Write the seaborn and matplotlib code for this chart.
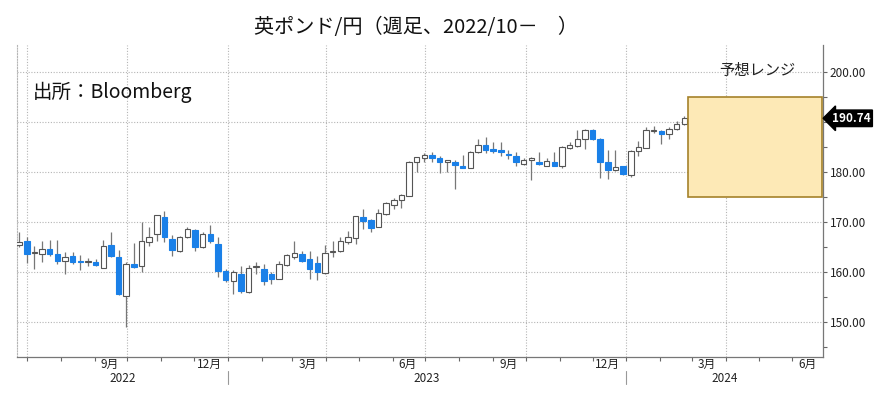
import numpy as np
import pandas as pd
import seaborn as sns
import matplotlib
matplotlib.use('Agg')
import matplotlib.pyplot as plt
import matplotlib.dates as mdates
from matplotlib.patches import Rectangle
from matplotlib.transforms import blended_transform_factory

# weekly GBP/JPY candles, last week ends 2024-02-23
opens = [165.4, 166.1, 163.8, 163.7, 164.5, 163.5, 162.2, 163.2, 162.2, 162.0,
         162.1, 160.9, 165.3, 163.0, 155.2, 161.7, 161.3, 166.1, 167.6, 171.1,
         166.6, 164.3, 167.1, 168.3, 165.1, 167.5, 165.5, 160.2, 158.2, 159.7,
         156.0, 161.0, 160.7, 159.6, 158.7, 161.5, 163.0, 163.7, 162.5, 161.8,
         159.8, 164.0, 164.3, 166.0, 166.8, 171.1, 170.5, 169.1, 171.6, 173.4,
         174.4, 175.3, 182.0, 182.8, 183.4, 182.8, 182.0, 182.1, 181.2, 180.9,
         184.1, 185.3, 184.5, 184.3, 183.6, 183.2, 181.7, 182.4, 182.1, 181.3,
         182.1, 181.3, 184.9, 185.2, 186.6, 188.4, 186.6, 182.0, 180.5, 181.1,
         179.4, 184.2, 184.9, 188.2, 188.2, 187.6, 188.7, 189.6]
highs = [168.0, 167.1, 165.3, 166.3, 166.4, 166.4, 164.0, 164.0, 163.5, 162.8,
         162.7, 166.5, 168.0, 164.5, 162.0, 165.8, 170.1, 169.0, 171.5, 172.2,
         167.5, 167.2, 169.1, 168.6, 168.0, 169.4, 167.0, 160.7, 160.4, 161.3,
         161.5, 162.0, 161.7, 160.0, 162.3, 163.7, 166.2, 164.3, 164.2, 163.3,
         165.5, 166.3, 167.1, 168.2, 171.3, 172.6, 170.7, 172.6, 174.0, 174.9,
         175.7, 182.2, 183.1, 183.9, 184.1, 183.3, 182.4, 182.5, 183.5, 184.3,
         186.6, 187.0, 186.0, 186.0, 184.4, 184.0, 182.8, 183.1, 184.0, 182.8,
         184.0, 185.2, 186.0, 188.4, 188.7, 188.6, 186.8, 184.4, 184.5, 181.2,
         184.4, 186.2, 189.1, 189.2, 188.4, 189.1, 190.2, 191.3]
lows = [165.0, 161.9, 160.6, 162.0, 163.2, 161.7, 159.7, 161.7, 160.4, 161.3,
        161.2, 160.8, 163.0, 155.5, 149.0, 160.8, 160.0, 165.3, 166.3, 166.0,
        163.3, 164.0, 166.9, 164.3, 164.9, 165.9, 159.0, 158.0, 155.7, 155.9,
        155.9, 159.7, 157.4, 157.7, 158.6, 161.3, 162.7, 162.0, 158.7, 158.4,
        159.7, 163.0, 164.1, 165.6, 165.6, 168.6, 168.0, 169.0, 171.4, 172.7,
        172.9, 175.2, 180.0, 182.0, 182.0, 179.9, 180.0, 176.6, 180.8, 180.8,
        183.9, 183.8, 183.8, 183.3, 182.7, 181.3, 181.4, 178.4, 181.5, 181.2,
        181.2, 180.9, 184.6, 185.0, 184.6, 186.4, 178.9, 178.7, 180.2, 179.4,
        179.0, 183.2, 184.8, 187.9, 185.6, 186.6, 188.4, 189.4]
closes = [166.0, 163.7, 164.0, 164.5, 163.6, 162.2, 163.1, 162.0, 162.1, 162.1,
          161.5, 165.2, 163.2, 155.7, 161.7, 161.0, 166.3, 167.0, 171.4, 167.0,
          164.5, 167.0, 168.6, 165.1, 167.5, 166.2, 160.2, 158.5, 159.9, 156.3,
          160.9, 161.2, 158.3, 158.7, 161.5, 163.3, 163.8, 162.3, 160.7, 160.0,
          163.9, 164.2, 166.2, 167.1, 171.2, 170.3, 168.9, 171.8, 173.8, 174.4,
          175.5, 182.0, 182.9, 183.4, 182.8, 182.0, 182.3, 181.4, 180.9, 184.1,
          185.3, 184.4, 184.2, 184.1, 183.4, 182.0, 182.4, 182.8, 181.6, 182.3,
          181.3, 185.0, 185.5, 186.7, 188.4, 186.7, 182.1, 180.5, 181.0, 179.7,
          184.2, 184.9, 188.4, 188.4, 187.6, 188.7, 189.6, 190.74]

range_low, range_high = 175, 195
range_start, range_end = '2024-02-26', '2024-06-28'
last_price = 190.74

month_names = {3: '3月', 6: '6月', 9: '9月', 12: '12月'}
years = [2022, 2023, 2024]

df = pd.DataFrame({
    'date': pd.date_range(end='2024-02-23', periods=len(closes), freq='W-FRI'),
    'open': opens, 'high': highs, 'low': lows, 'close': closes,
})
df['up'] = df['close'] >= df['open']

sns.set_theme(style='white')
plt.rcParams['font.family'] = ['Noto Sans CJK JP', 'DejaVu Sans']

blue = '#1a80e8'
grid_kw = dict(color='#b5b5b5', linestyle=(0, (1, 1.5)), linewidth=0.8)

fig = plt.figure(figsize=(8.8, 3.97), dpi=100)
ax = fig.add_axes([17 / 880, 40 / 397, 806 / 880, 312 / 397])

x0, x1 = pd.Timestamp('2022-06-22'), pd.Timestamp('2024-06-29')
ax.set_xlim(x0, x1)
ax.set_ylim(143, 205.4)

# candles
ax.vlines(df['date'], df['low'], df['high'], color='#777777', linewidth=0.9, zorder=2)
body_low = np.minimum(df['open'], df['close'])
body_h = np.maximum((df['close'] - df['open']).abs(), 0.15)
ax.bar(df['date'], body_h, bottom=body_low, width=5,
       color=np.where(df['up'], 'white', blue),
       edgecolor=np.where(df['up'], '#555555', blue), linewidth=0.8, zorder=3)

# forecast range box
rs, re_ = mdates.date2num(pd.Timestamp(range_start)), mdates.date2num(pd.Timestamp(range_end))
ax.add_patch(Rectangle((rs, range_low), re_ - rs, range_high - range_low,
                       facecolor='#fde9b6', edgecolor='#a5822a', linewidth=1.2, zorder=4))
ax.text(0.918, 0.917, '予想レンジ', transform=ax.transAxes, ha='center', va='center',
        fontsize=11, color='#222222')

# axes styling
yticks = np.arange(150, 201, 10)
ax.yaxis.tick_right()
ax.set_yticks(yticks)
ax.set_yticks(np.arange(145, 205, 5), minor=True)
# the 190 label sits under the last-price tag, as on the original
ax.set_yticklabels(['' if v == 190 else f'{v:.2f}' for v in yticks])
ax.xaxis.set_major_locator(mdates.MonthLocator(bymonth=[1, 4, 7, 10]))
ax.xaxis.set_minor_locator(mdates.MonthLocator())
ax.xaxis.set_major_formatter(plt.NullFormatter())
ax.tick_params(axis='y', which='both', right=True, direction='out', length=3, width=0.8,
               color='#666666', labelsize=8.5, labelcolor='#222222', pad=2)
ax.tick_params(axis='x', which='both', bottom=True, direction='out', length=3, width=0.8,
               color='#666666')
ax.grid(True, which='major', **grid_kw)
ax.spines['top'].set_visible(False)
ax.spines['left'].set_color('#b5b5b5')
ax.spines['left'].set_linestyle((0, (1, 1.5)))
ax.spines['left'].set_linewidth(0.8)
for side in ['right', 'bottom']:
    ax.spines[side].set_color('#777777')
    ax.spines[side].set_linewidth(0.9)

# month labels (mid-month) and year labels
tr = blended_transform_factory(ax.transData, ax.transAxes)
for m in pd.date_range(x0, x1, freq='MS'):
    if m.month in month_names:
        mid = m + pd.Timedelta(days=14)
        ax.text(mid, -0.024, month_names[m.month], transform=tr, ha='center', va='center',
                fontsize=8.5, color='#222222', clip_on=False)
for y in years:
    a = max(pd.Timestamp(f'{y}-01-01'), x0)
    b = min(pd.Timestamp(f'{y + 1}-01-01'), x1)
    ax.text(a + (b - a) / 2, -0.07, str(y), transform=tr, ha='center', va='center',
            fontsize=8.5, color='#222222', clip_on=False)
    if y > years[0]:
        ax.plot([a, a], [-0.045, -0.088], transform=tr, color='#999999', linewidth=0.8,
                clip_on=False)

# last price tag
ax.text(1.011, last_price, f'{last_price:.2f}',
        transform=blended_transform_factory(ax.transAxes, ax.transData),
        ha='left', va='center', fontsize=8.5, color='white', fontweight='bold',
        bbox=dict(boxstyle='larrow,pad=0.15', facecolor='black', edgecolor='black'),
        clip_on=False, zorder=6)

ax.text(0.02, 0.849, '出所：Bloomberg', transform=ax.transAxes, ha='left', va='center',
        fontsize=14, color='#111111')
fig.text(416 / 880, 1 - 27 / 397, '英ポンド/円（週足、2022/10－　）', ha='center', va='center',
         fontsize=14.5, color='#111111')

fig.savefig('out.png', dpi=100)
